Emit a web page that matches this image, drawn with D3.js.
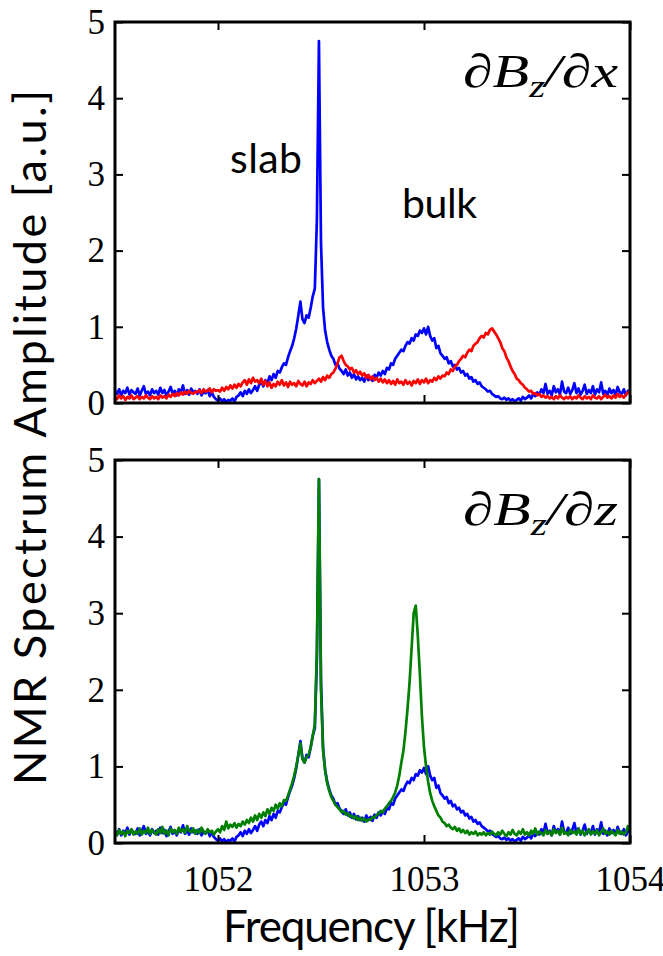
<!DOCTYPE html>
<html>
<head>
<meta charset="utf-8">
<script src="https://cdn.jsdelivr.net/npm/d3@7"></script>
<style>
  body { margin: 0; background: #fff; }
  #chart { width: 663px; height: 956px; }
</style>
</head>
<body>
<div id="chart"></div>
<script>
// Частота: от 1051.50 до 1054.00 кГц с шагом 0.01
const freqStart = 1051.5;
const freqStep = 0.01;

// Спектр при градиенте dBz/dx (синий), тот же спектр внизу
const blueSpectrum = [
    0.15,0.12,0.18,0.10,0.16,0.13,0.20,0.11,0.17,0.14,
    0.12,0.19,0.10,0.16,0.22,0.12,0.15,0.10,0.18,0.13,
    0.16,0.11,0.20,0.13,0.17,0.09,0.15,0.21,0.12,0.16,
    0.10,0.18,0.14,0.23,0.12,0.17,0.11,0.19,0.14,0.16,
    0.12,0.18,0.10,0.15,0.13,0.17,0.09,0.14,0.08,0.05,
    0.03,0.06,0.02,0.05,0.01,0.04,0.03,0.06,0.02,0.08,
    0.10,0.14,0.09,0.16,0.12,0.18,0.13,0.17,0.22,0.16,
    0.24,0.28,0.22,0.30,0.26,0.35,0.30,0.38,0.33,0.42,
    0.40,0.47,0.52,0.50,0.60,0.68,0.75,0.85,0.98,1.15,
    1.33,1.10,1.05,1.15,1.12,1.25,1.40,1.50,2.40,4.75,
    2.10,1.25,0.95,0.80,0.70,0.62,0.58,0.50,0.52,0.45,
    0.42,0.38,0.44,0.36,0.40,0.33,0.38,0.31,0.35,0.30,
    0.33,0.28,0.36,0.30,0.34,0.29,0.37,0.33,0.40,0.36,
    0.42,0.38,0.46,0.44,0.52,0.50,0.58,0.62,0.66,0.70,
    0.68,0.75,0.80,0.78,0.85,0.82,0.90,0.88,0.95,0.92,
    0.98,0.90,1.00,0.88,0.82,0.85,0.72,0.75,0.65,0.62,
    0.58,0.60,0.52,0.55,0.48,0.50,0.44,0.46,0.40,0.42,
    0.36,0.38,0.32,0.34,0.28,0.30,0.25,0.27,0.22,0.20,
    0.18,0.15,0.16,0.12,0.10,0.08,0.09,0.06,0.05,0.07,
    0.04,0.06,0.03,0.05,0.02,0.04,0.06,0.03,0.08,0.05,
    0.07,0.10,0.06,0.12,0.09,0.14,0.11,0.18,0.13,0.25,
    0.12,0.16,0.10,0.22,0.14,0.18,0.11,0.28,0.15,0.13,
    0.20,0.12,0.17,0.26,0.13,0.19,0.11,0.16,0.24,0.12,
    0.17,0.13,0.22,0.11,0.18,0.14,0.27,0.12,0.16,0.10,
    0.19,0.13,0.17,0.11,0.21,0.14,0.12,0.18,0.10,0.16,
    0.14
];

// Второй спектр верхней панели (красный)
const redSpectrum = [
    0.08,0.05,0.10,0.06,0.09,0.04,0.08,0.06,0.10,0.05,
    0.07,0.09,0.05,0.08,0.06,0.10,0.07,0.05,0.09,0.06,
    0.08,0.05,0.10,0.07,0.09,0.06,0.11,0.08,0.12,0.09,
    0.13,0.10,0.14,0.11,0.15,0.12,0.16,0.13,0.12,0.15,
    0.14,0.17,0.13,0.18,0.15,0.16,0.19,0.14,0.18,0.16,
    0.17,0.15,0.20,0.16,0.21,0.18,0.23,0.19,0.24,0.20,
    0.25,0.22,0.27,0.30,0.24,0.31,0.26,0.33,0.28,0.30,
    0.26,0.32,0.24,0.29,0.22,0.27,0.20,0.25,0.22,0.28,
    0.24,0.30,0.23,0.27,0.21,0.28,0.24,0.26,0.22,0.29,
    0.25,0.23,0.28,0.22,0.27,0.25,0.30,0.26,0.29,0.32,
    0.28,0.34,0.30,0.36,0.33,0.38,0.40,0.45,0.52,0.60,
    0.62,0.55,0.50,0.48,0.44,0.46,0.40,0.43,0.38,0.41,
    0.36,0.39,0.33,0.37,0.31,0.35,0.30,0.33,0.28,0.32,
    0.27,0.31,0.26,0.30,0.25,0.29,0.24,0.31,0.26,0.28,
    0.24,0.30,0.25,0.28,0.23,0.29,0.26,0.31,0.25,0.30,
    0.27,0.32,0.26,0.30,0.28,0.33,0.30,0.35,0.32,0.36,
    0.35,0.40,0.38,0.44,0.42,0.48,0.50,0.55,0.58,0.62,
    0.60,0.66,0.70,0.68,0.75,0.78,0.80,0.85,0.88,0.86,
    0.92,0.90,0.96,0.98,0.94,0.90,0.85,0.80,0.72,0.68,
    0.60,0.55,0.48,0.42,0.38,0.32,0.30,0.26,0.24,0.20,
    0.18,0.15,0.16,0.12,0.13,0.10,0.12,0.08,0.10,0.07,
    0.09,0.06,0.08,0.05,0.09,0.06,0.10,0.07,0.05,0.08,
    0.06,0.09,0.05,0.08,0.06,0.10,0.07,0.05,0.09,0.06,
    0.08,0.05,0.10,0.07,0.06,0.09,0.05,0.08,0.11,0.07,
    0.09,0.06,0.10,0.07,0.12,0.08,0.10,0.07,0.11,0.14,
    0.15
];

// Спектр при градиенте dBz/dz (зелёный)
const greenSpectrum = [
    0.14,0.10,0.17,0.12,0.15,0.09,0.16,0.13,0.18,0.11,
    0.15,0.12,0.19,0.11,0.16,0.13,0.20,0.12,0.17,0.14,
    0.11,0.18,0.13,0.21,0.12,0.16,0.10,0.19,0.14,0.17,
    0.12,0.20,0.15,0.18,0.13,0.22,0.16,0.14,0.19,0.12,
    0.17,0.13,0.20,0.15,0.12,0.18,0.14,0.16,0.11,0.15,
    0.18,0.14,0.22,0.17,0.28,0.19,0.24,0.21,0.26,0.20,
    0.25,0.22,0.28,0.24,0.30,0.26,0.33,0.28,0.36,0.30,
    0.38,0.33,0.40,0.35,0.44,0.38,0.46,0.42,0.50,0.45,
    0.52,0.48,0.56,0.55,0.62,0.70,0.78,0.88,1.00,1.15,
    1.30,1.10,1.05,1.12,1.15,1.25,1.40,1.55,2.50,4.75,
    2.00,1.20,0.95,0.78,0.68,0.60,0.55,0.50,0.47,0.44,
    0.40,0.42,0.37,0.39,0.34,0.36,0.32,0.35,0.30,0.33,
    0.29,0.32,0.28,0.31,0.30,0.34,0.33,0.37,0.38,0.42,
    0.40,0.45,0.48,0.52,0.55,0.60,0.66,0.75,0.88,1.05,
    1.20,1.45,1.75,2.10,2.55,3.00,3.10,2.70,2.20,1.65,
    1.25,1.00,0.80,0.65,0.55,0.48,0.42,0.36,0.33,0.28,
    0.26,0.22,0.24,0.20,0.18,0.21,0.16,0.19,0.14,0.17,
    0.13,0.16,0.11,0.14,0.12,0.15,0.10,0.13,0.11,0.14,
    0.10,0.13,0.11,0.15,0.12,0.10,0.14,0.11,0.16,0.12,
    0.09,0.14,0.11,0.17,0.12,0.10,0.15,0.12,0.18,0.11,
    0.14,0.10,0.16,0.12,0.19,0.11,0.15,0.13,0.10,0.17,
    0.12,0.15,0.10,0.18,0.13,0.16,0.11,0.20,0.12,0.14,
    0.10,0.17,0.13,0.15,0.11,0.19,0.12,0.16,0.10,0.14,
    0.18,0.11,0.15,0.12,0.17,0.10,0.14,0.19,0.12,0.15,
    0.11,0.16,0.13,0.10,0.17,0.12,0.15,0.11,0.14,0.22,
    0.16
];

const xTicks = [1052, 1053, 1054];
const yTicks = [0, 1, 2, 3, 4, 5];

// Превращаем массив амплитуд в точки (частота, амплитуда)
function toPoints(values) {
    return values.map((v, i) => ({ f: freqStart + i * freqStep, a: v }));
}

const svg = d3.select('#chart').append('svg')
    .attr('width', 663)
    .attr('height', 956);

const x = d3.scaleLinear().domain([1051.5, 1054]).range([115, 630]);

const serif = '"Liberation Serif", "DejaVu Serif", serif';
const sans = 'Lato, "Noto Sans", sans-serif';

// Одна панель графика
function drawPanel(top, bottom, series, label, showXLabels, id) {
    const y = d3.scaleLinear().domain([0, 5]).range([bottom, top]);

    svg.append('clipPath').attr('id', id)
        .append('rect')
        .attr('x', 115).attr('y', top)
        .attr('width', 515).attr('height', bottom - top);

    const line = d3.line().x(d => x(d.f)).y(d => y(d.a));

    const lines = svg.append('g').attr('clip-path', `url(#${id})`);
    series.forEach(s => {
        lines.append('path')
            .datum(toPoints(s.values))
            .attr('fill', 'none')
            .attr('stroke', s.color)
            .attr('stroke-width', 2.7)
            .attr('stroke-linejoin', 'round')
            .attr('d', line);
    });

    // Оси: засечки внутрь со всех сторон
    const left = svg.append('g').attr('transform', 'translate(115,0)')
        .call(d3.axisLeft(y).tickValues(yTicks).tickSize(-8).tickPadding(10).tickFormat(d3.format('d')));
    const right = svg.append('g').attr('transform', 'translate(630,0)')
        .call(d3.axisRight(y).tickValues(yTicks).tickSize(-8).tickFormat(''));
    const topAx = svg.append('g').attr('transform', `translate(0,${top})`)
        .call(d3.axisTop(x).tickValues(xTicks).tickSize(-8).tickFormat(''));
    const botAx = svg.append('g').attr('transform', `translate(0,${bottom})`)
        .call(d3.axisBottom(x).tickValues(xTicks).tickSize(-8).tickPadding(23)
            .tickFormat(showXLabels ? d3.format('d') : ''));

    [left, right, topAx, botAx].forEach(g => {
        g.select('.domain').remove();
        g.selectAll('.tick line').attr('stroke', '#000').attr('stroke-width', 2);
        g.selectAll('.tick text')
            .attr('fill', '#000')
            .style('font-family', serif)
            .style('font-size', '35px');
    });

    // Рамка
    svg.append('rect')
        .attr('x', 115).attr('y', top)
        .attr('width', 515).attr('height', bottom - top)
        .attr('fill', 'none')
        .attr('stroke', '#000')
        .attr('stroke-width', 3);

    // Подпись градиента в правом верхнем углу
    const t = svg.append('text')
        .attr('x', 463).attr('y', top + 65)
        .attr('textLength', 155)
        .attr('lengthAdjust', 'spacingAndGlyphs')
        .style('font-family', serif)
        .style('font-style', 'italic')
        .style('font-size', '47px');
    t.append('tspan').text('\u2202B');
    t.append('tspan').attr('dy', 10).style('font-size', '32px').text('z');
    t.append('tspan').attr('dy', -10).text('/\u2202' + label);
}

drawPanel(22, 403, [
    { values: blueSpectrum, color: '#0000ff' },
    { values: redSpectrum, color: '#ff0000' }
], 'x', false, 'clip-top');

drawPanel(460, 843, [
    { values: blueSpectrum, color: '#0000ff' },
    { values: greenSpectrum, color: '#008000' }
], 'z', true, 'clip-bottom');

// Подписи пиков
svg.append('text').attr('x', 230).attr('y', 173)
    .attr('textLength', 72)
    .style('font-family', sans).style('font-size', '41px').text('slab');
svg.append('text').attr('x', 402).attr('y', 218)
    .attr('textLength', 75)
    .style('font-family', sans).style('font-size', '41px').text('bulk');

// Подписи осей
svg.append('text')
    .attr('x', 223).attr('y', 942)
    .attr('textLength', 297)
    .attr('lengthAdjust', 'spacing')
    .style('font-family', sans).style('font-size', '44px')
    .text('Frequency [kHz]');

svg.append('text')
    .attr('transform', 'translate(46,785) rotate(-90)')
    .attr('textLength', 695)
    .attr('lengthAdjust', 'spacing')
    .style('font-family', sans).style('font-size', '45px')
    .text('NMR Spectrum Amplitude [a.u.]');
</script>
</body>
</html>
